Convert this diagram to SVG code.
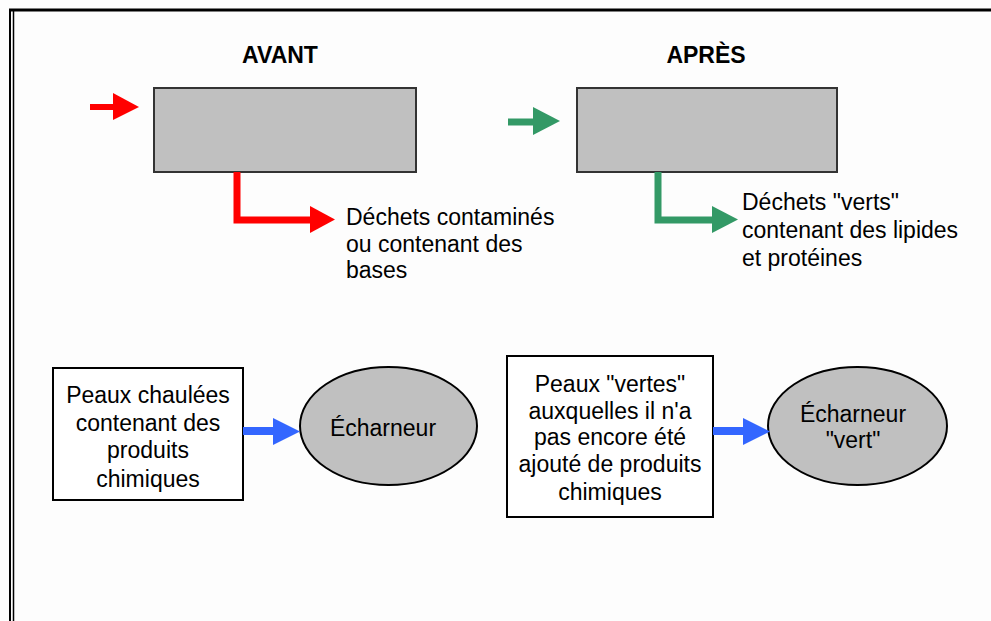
<svg xmlns="http://www.w3.org/2000/svg" width="991" height="621" viewBox="0 0 991 621">
  <style>
    .txt { font-family: "Liberation Sans", Arial, sans-serif; font-size: 23px; fill: #000; }
    .title { font-family: "Liberation Sans", Arial, sans-serif; font-size: 23px; font-weight: bold; fill: #000; }
    .stage { fill: #c0c0c0; stroke: #333; stroke-width: 2; }
    .box { fill: #fff; stroke: #000; stroke-width: 2; }
    .tool { fill: #c0c0c0; stroke: #000; stroke-width: 2; }
  </style>

  <!-- page background and frame -->
  <rect x="0" y="0" width="991" height="621" fill="#fdfdfd"/>
  <line x1="9" y1="10" x2="991" y2="10" stroke="#000" stroke-width="3"/>
  <line x1="10" y1="9" x2="10" y2="621" stroke="#000" stroke-width="2"/>
  <line x1="13.5" y1="11" x2="13.5" y2="621" stroke="#000" stroke-width="1.5"/>

  <!-- headings -->
  <text class="title" x="280" y="63" text-anchor="middle">AVANT</text>
  <text class="title" x="706" y="63" text-anchor="middle">APRÈS</text>

  <!-- process stages -->
  <g id="stage-avant">
    <rect class="stage" x="154" y="88" width="262" height="84"/>
  </g>
  <g id="stage-apres">
    <rect class="stage" x="577" y="88" width="260" height="84"/>
  </g>

  <!-- waste labels -->
  <g id="waste-avant">
    <text class="txt" x="346" y="225">Déchets contaminés</text>
    <text class="txt" x="346" y="251.5">ou contenant des</text>
    <text class="txt" x="346" y="278">bases</text>
  </g>
  <g id="waste-apres">
    <text class="txt" x="742" y="210">Déchets "verts"</text>
    <text class="txt" x="742" y="238">contenant des lipides</text>
    <text class="txt" x="742" y="266">et protéines</text>
  </g>

  <!-- hides and fleshing machines -->
  <g id="hides-limed">
    <rect class="box" x="53" y="368" width="190" height="132"/>
    <text class="txt" x="148" y="403" text-anchor="middle">Peaux chaulées</text>
    <text class="txt" x="148" y="431" text-anchor="middle">contenant des</text>
    <text class="txt" x="148" y="458" text-anchor="middle">produits</text>
    <text class="txt" x="148" y="487" text-anchor="middle">chimiques</text>
  </g>
  <g id="flesher">
    <ellipse class="tool" cx="388.5" cy="426" rx="88.5" ry="59"/>
    <text class="txt" x="383" y="436" text-anchor="middle">Écharneur</text>
  </g>
  <g id="hides-green">
    <rect class="box" x="507" y="356" width="206" height="161"/>
    <text class="txt" x="610" y="392" text-anchor="middle">Peaux "vertes"</text>
    <text class="txt" x="610" y="418.5" text-anchor="middle">auxquelles il n'a</text>
    <text class="txt" x="610" y="445" text-anchor="middle">pas encore été</text>
    <text class="txt" x="610" y="472" text-anchor="middle">ajouté de produits</text>
    <text class="txt" x="610" y="500" text-anchor="middle">chimiques</text>
  </g>
  <g id="flesher-green">
    <ellipse class="tool" cx="857.5" cy="426" rx="89.5" ry="59"/>
    <text class="txt" x="853" y="422" text-anchor="middle">Écharneur</text>
    <text class="txt" x="853" y="448" text-anchor="middle">"vert"</text>
  </g>

  <!-- connectors -->
  <g id="connectors">
    <!-- inputs to stages -->
    <line x1="90" y1="107" x2="114" y2="107" stroke="#ff0000" stroke-width="6"/>
    <polygon points="113,93 139,107 113,120" fill="#ff0000"/>
    <line x1="508" y1="122" x2="534" y2="122" stroke="#339966" stroke-width="7"/>
    <polygon points="533,107 560,121 533,135" fill="#339966"/>

    <!-- waste outputs -->
    <polyline points="237,172 237,220 311,220" fill="none" stroke="#ff0000" stroke-width="7"/>
    <polygon points="310,206 335,219.5 310,233" fill="#ff0000"/>
    <polyline points="658,172 658,220 713,220" fill="none" stroke="#339966" stroke-width="7"/>
    <polygon points="712,206 738,219.5 712,233" fill="#339966"/>

    <!-- hides to fleshers -->
    <line x1="243" y1="431" x2="274" y2="431" stroke="#3366ff" stroke-width="8"/>
    <polygon points="273,418 300,431.5 273,445" fill="#3366ff"/>
    <line x1="713" y1="431" x2="744" y2="431" stroke="#3366ff" stroke-width="8"/>
    <polygon points="743,418 770,431.5 743,445" fill="#3366ff"/>
  </g>
</svg>
